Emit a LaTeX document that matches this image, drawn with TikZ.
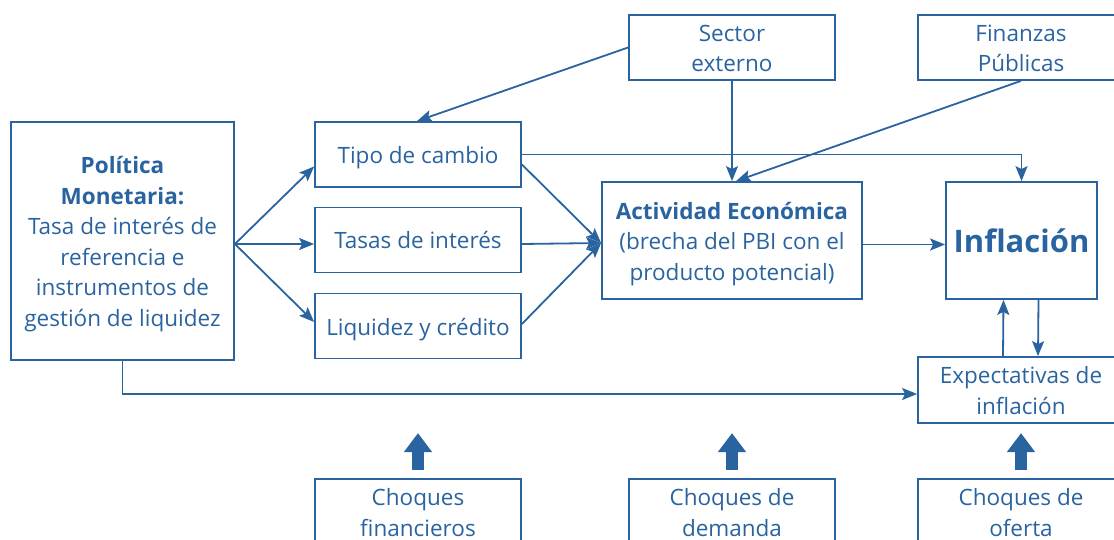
\documentclass[tikz,border=0pt]{standalone}
\usepackage{fontspec}
\setmainfont{Open Sans}
\usetikzlibrary{arrows.meta,calc}
\definecolor{bcr}{RGB}{41,99,160}
\newcommand\tp{\rule{0pt}{24pt}}
\newcommand\bt{\rule[-6pt]{0pt}{6pt}}
\begin{document}
\begin{tikzpicture}[x=1pt,y=-1pt,
  every node/.style={text=bcr, font=\fontsize{22.5}{30.5}\selectfont, align=center, inner sep=0pt},
  box/.style={draw=bcr, line width=1.8pt, rectangle},
  arr/.style={draw=bcr, line width=1.8pt, -{Stealth[length=15pt,width=12pt,inset=3pt]}},
  thick arr/.style={draw=bcr, line width=12pt, -{Triangle[length=19pt,width=27pt]}}]
\clip (0,0) rectangle (1114,540);
% boxes
\node[box, minimum width=223pt, minimum height=238pt] (pm) at (122.5,241)
  {\tp\textbf{Política}\\ \textbf{Monetaria:}\\ Tasa de interés de\\ referencia e\\ instrumentos de\\ gestión de liquidez\bt};
\node[box, minimum width=206pt, minimum height=65pt] (tc) at (418,154.5) {\tp Tipo de cambio\bt};
\node[box, minimum width=206pt, minimum height=65pt] (ti) at (418,240) {\tp Tasas de interés\bt};
\node[box, minimum width=206pt, minimum height=65pt] (li) at (418,326) {\tp Liquidez y crédito\bt};
\node[box, minimum width=206pt, minimum height=65pt] (se) at (732,47.5) {\tp Sector\\ externo\bt};
\node[box, minimum width=206pt, minimum height=65pt] (fp) at (1021,47.5) {\tp Finanzas\\ Públicas\bt};
\node[box, minimum width=260pt, minimum height=117pt] (act) at (732,240.5)
  {\tp\textbf{Actividad Económica}\\ (brecha del PBI con el\\ producto potencial)\bt};
\node[box, minimum width=151pt, minimum height=117pt, font=\fontsize{31}{36}\selectfont\bfseries] (inf) at (1021.5,240.5) {\rule[-8pt]{0pt}{41pt}Inflación};
\node[box, minimum width=206pt, minimum height=66pt] (exp) at (1021,390) {\tp Expectativas de\\ inflación\bt};
\node[box, minimum width=206pt, minimum height=66pt] (cf) at (418,512) {\tp Choques\\ financieros\bt};
\node[box, minimum width=206pt, minimum height=66pt] (cd) at (732,512) {\tp Choques de\\ demanda\bt};
\node[box, minimum width=206pt, minimum height=66pt] (co) at (1021,512) {\tp Choques de\\ oferta\bt};
% connectors
\coordinate (pmo) at ([yshift=-3pt]pm.east);
\coordinate (actin) at ([yshift=-2.5pt]act.west);
\draw[arr] (pmo) -- ([yshift=-12pt]tc.west);
\draw[arr] (pmo) -- ([yshift=-4pt]ti.west);
\draw[arr] (pmo) -- ([yshift=4pt]li.west);
\draw[arr] (tc.east) -| (inf.north);
\draw[arr] ([yshift=-10pt]tc.east) -- (actin);
\draw[arr] ([yshift=-4pt]ti.east) -- (actin);
\draw[arr] ([yshift=2pt]li.east) -- (actin);
\draw[arr] (se.west) -- ([xshift=-1pt]tc.north);
\draw[arr] (se.south) -- (act.north);
\draw[arr] (fp.south) -- ([xshift=4pt]act.north);
\draw[arr] ([yshift=-4pt]act.east) -- ([yshift=-4pt]inf.west);
\draw[arr] ([xshift=17pt]inf.south) -- ([xshift=17pt]exp.north);
\draw[arr] ([xshift=-18pt]exp.north) -- ([xshift=-18pt]inf.south);
\draw[arr] (pm.south) |- ([yshift=-4pt]exp.west);
% thick arrows
\draw[thick arr] ([yshift=8pt]cf.north) -- ([yshift=45pt]cf.north);
\draw[thick arr] ([yshift=8pt]cd.north) -- ([yshift=45pt]cd.north);
\draw[thick arr] ([yshift=8pt]co.north) -- ([yshift=45pt]co.north);
\end{tikzpicture}
\end{document}
